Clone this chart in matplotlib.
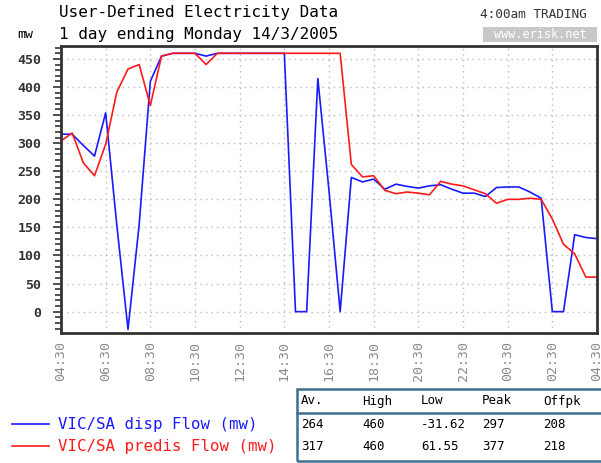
import matplotlib
matplotlib.use("Agg")
import matplotlib.pyplot as plt
from matplotlib.lines import Line2D
from matplotlib.patches import Rectangle
from matplotlib.ticker import MultipleLocator

# half-hourly trading intervals, 04:30 -> 04:30 next day
tick_labels = ["04:30", "06:30", "08:30", "10:30", "12:30", "14:30", "16:30",
               "18:30", "20:30", "22:30", "00:30", "02:30", "04:30"]

disp_flow = [316, 316, 296, 277, 354, 154, -31.62, 155, 410, 455,
             460, 460, 460, 455, 460, 460, 460, 460, 460, 460,
             460, 0, 0, 415, 215, 0, 239, 231, 236, 218,
             227, 223, 220, 224, 226, 218, 211, 211, 205, 221,
             222, 222, 213, 202, 0, 0, 137, 132, 130]

predis_flow = [304, 318, 265, 242, 298, 391, 432, 440, 367, 455,
               460, 460, 460, 440, 460, 460, 460, 460, 460, 460,
               460, 460, 460, 460, 460, 460, 262, 240, 242, 216,
               210, 213, 211, 208, 232, 227, 224, 217, 210, 193,
               200, 200, 202, 200, 165, 120, 103, 61.55, 61.55]

stat_headers = ["Av.", "High", "Low", "Peak", "Offpk"]
disp_stats = ["264", "460", "-31.62", "297", "208"]
predis_stats = ["317", "460", "61.55", "377", "218"]

W, H = 601, 463
MONO = "DejaVu Sans Mono"


def fx(px):
    return px / W


def fy(py):
    return 1 - py / H


fig = plt.figure(figsize=(W / 100, H / 100), dpi=100)
fig.patch.set_facecolor("white")

ax = fig.add_axes([fx(61), fy(333), (597 - 61) / W, (333 - 46) / H])
slots = list(range(len(disp_flow)))
ax.plot(slots, disp_flow, color="#1a1aff", lw=1.2)
ax.plot(slots, predis_flow, color="#ff1a1a", lw=1.2)

ax.set_xlim(0, 48)
ax.set_ylim(-38, 473)
ax.set_xticks(range(0, 49, 4))
ax.set_xticklabels(tick_labels, rotation=90, family=MONO, fontsize=9.5, color="#8a8a8a")
ax.set_yticks(range(0, 451, 50))
ax.set_yticklabels([str(v) for v in range(0, 451, 50)], family=MONO, fontsize=9.5,
                   fontweight="bold", color="#333333")
ax.yaxis.set_minor_locator(MultipleLocator(10))
ax.tick_params(axis="y", which="major", direction="out", length=6, width=1.2,
               color="#333333", pad=8)
ax.tick_params(axis="y", which="minor", direction="out", length=4, width=1.2,
               color="#333333")
ax.tick_params(axis="x", which="major", length=0, pad=6)
ax.grid(True, which="major", color="#bbbbbb", linestyle=(0, (1, 3)), lw=1)
for s in ax.spines.values():
    s.set_color("#333333")
    s.set_linewidth(2)

# headings
fig.text(fx(59), fy(13), "User-Defined Electricity Data", family=MONO, fontsize=11.5,
         va="center", ha="left")
fig.text(fx(59), fy(34), "1 day ending Monday 14/3/2005", family=MONO, fontsize=11.5,
         va="center", ha="left")
fig.text(fx(17), fy(34), "mw", family=MONO, fontsize=9.5, va="center", ha="left")
fig.text(fx(587), fy(14), "4:00am TRADING", family=MONO, fontsize=9.2,
         va="center", ha="right", color="#333333")
fig.add_artist(Rectangle((fx(483), fy(42)), fx(597) - fx(483), fy(27) - fy(42),
                         transform=fig.transFigure, facecolor="#c8c8c8", edgecolor="none"))
fig.text(fx(540), fy(35), "www.erisk.net", family=MONO, fontsize=8.5,
         va="center", ha="center", color="white")

# legend
fig.add_artist(Line2D([fx(12), fx(49)], [fy(424), fy(424)], color="#1a1aff", lw=1.2))
fig.add_artist(Line2D([fx(12), fx(49)], [fy(446), fy(446)], color="#ff1a1a", lw=1.2))
fig.text(fx(58), fy(424), "VIC/SA disp Flow (mw)", family=MONO, fontsize=11.3,
         va="center", ha="left", color="#1a1aff")
fig.text(fx(58), fy(446), "VIC/SA predis Flow (mw)", family=MONO, fontsize=11.3,
         va="center", ha="left", color="#ff1a1a")

# stats table
fig.add_artist(Rectangle((fx(297), fy(461)), fx(610) - fx(297), fy(389) - fy(461),
                         transform=fig.transFigure, facecolor="none",
                         edgecolor="#3f6f8f", lw=1.8))
fig.add_artist(Line2D([fx(297), fx(601)], [fy(413), fy(413)], color="#3f6f8f", lw=1.8))
col_x = [301, 362, 421, 482, 543]
for x, h, a, b in zip(col_x, stat_headers, disp_stats, predis_stats):
    fig.text(fx(x), fy(401), h, family=MONO, fontsize=9, va="center", ha="left")
    fig.text(fx(x), fy(425), a, family=MONO, fontsize=9, va="center", ha="left")
    fig.text(fx(x), fy(447), b, family=MONO, fontsize=9, va="center", ha="left")

fig.savefig("out.png", dpi=100)
